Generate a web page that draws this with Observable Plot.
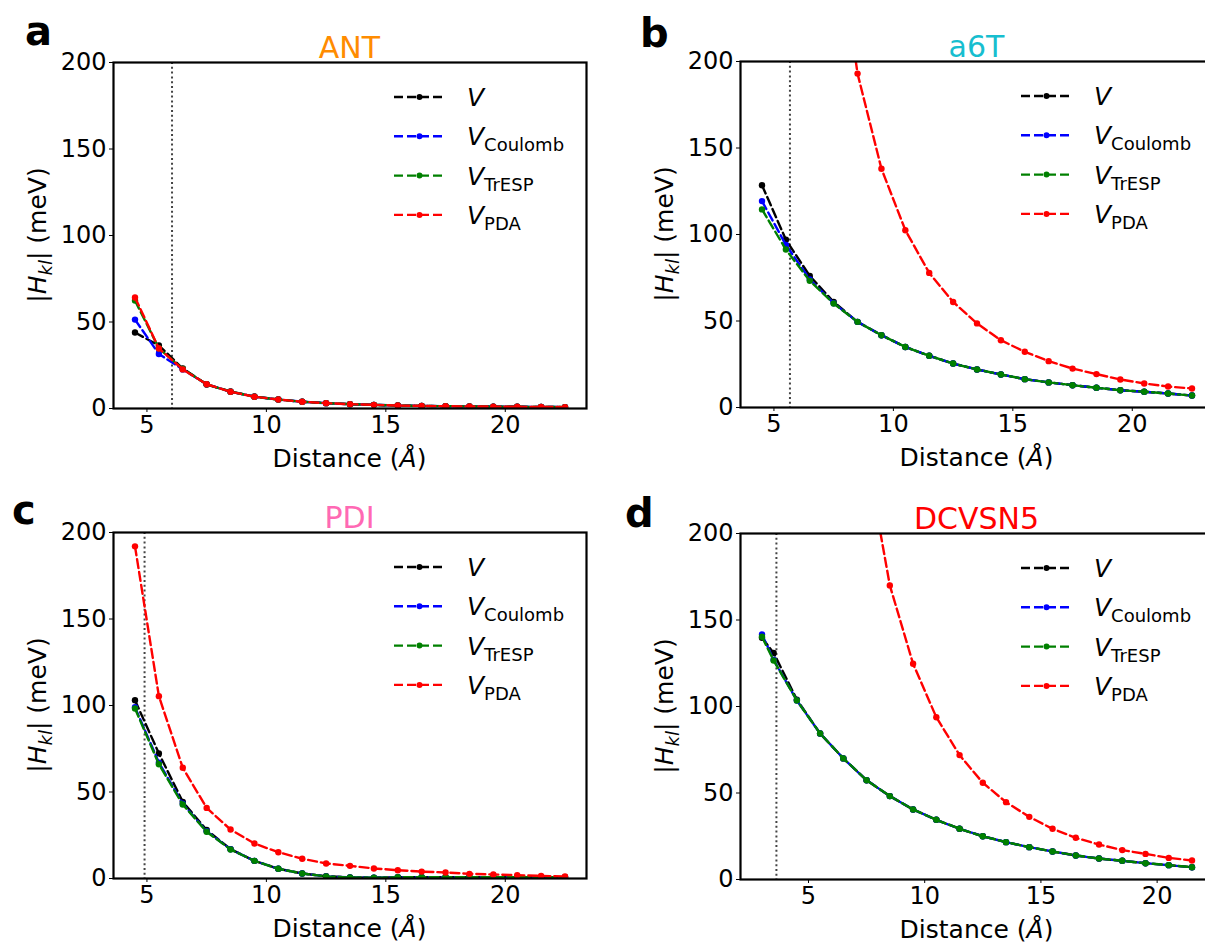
<!DOCTYPE html>
<html><head><meta charset="utf-8">
<script src="https://cdn.jsdelivr.net/npm/d3@7"></script>
<script src="https://cdn.jsdelivr.net/npm/@observablehq/plot@0.6"></script>
<style>
html,body{margin:0;padding:0;background:#fff;overflow:hidden;width:1205px;height:943px;}
#root{position:relative;width:1205px;height:943px;overflow:hidden;font-family:"DejaVu Sans",sans-serif;}
.panel{position:absolute;}
#overlay{position:absolute;left:0;top:0;pointer-events:none;}
</style></head>
<body><div id="root"></div>
<script>
// ---- data ----
const seriesNames = ["V", "Coulomb", "TrESP", "PDA"];
const seriesColors = ["#000000", "#0000ff", "#008000", "#ff0000"];
const panelLetters = ["a", "b", "c", "d"];
const panelTitles = ["ANT", "a6T", "PDI", "DCVSN5"];
const titleColors = ["#ff8c00", "#17becf", "#ff69b4", "#ff0000"];
const xTicks = [5, 10, 15, 20];
const yTicks = [0, 50, 100, 150, 200];
const cutoffs = [6.05, 5.67, 4.9, 3.62];

const dist = [4.5,5.5,6.5,7.5,8.5,9.5,10.5,11.5,12.5,13.5,14.5,15.5,16.5,17.5,18.5,19.5,20.5,21.5,22.5];
const distD = [3.0,3.5,4.5,5.5,6.5,7.5,8.5,9.5,10.5,11.5,12.5,13.5,14.5,15.5,16.5,17.5,18.5,19.5,20.5,21.5];
const distPdaB = [7.5,8.5,9.5,10.5,11.5,12.5,13.5,14.5,15.5,16.5,17.5,18.5,19.5,20.5,21.5,22.5];
const distPdaD = [7.5,8.5,9.5,10.5,11.5,12.5,13.5,14.5,15.5,16.5,17.5,18.5,19.5,20.5,21.5];

// ANT
const antV    = [43.9,36.4,23.1,13.9,9.8,6.9,5.2,3.9,3.1,2.5,2.1,1.7,1.5,1.3,1.2,1.1,1.0,0.9,0.8];
const antCoul = [51.4,31.5,22.6,14.0,9.7,6.8,5.2,3.9,3.1,2.5,2.1,1.7,1.5,1.3,1.2,1.1,1.0,0.9,0.8];
const antTr   = [62.4,34.8,22.8,14.0,9.7,6.8,5.2,3.9,3.1,2.5,2.1,1.7,1.5,1.3,1.2,1.1,1.0,0.9,0.8];
const antPDA  = [64.2,34.7,22.6,14.0,9.7,6.8,5.2,3.9,3.1,2.5,2.1,1.7,1.5,1.3,1.2,1.1,1.0,0.9,0.8];
// a6T
const a6tV    = [128.5,97.0,76.0,61.0,49.5,41.8,35.0,29.9,25.4,22.0,19.1,16.4,14.5,12.9,11.4,10.0,9.1,8.1,6.9];
const a6tCoul = [119.3,94.0,74.0,60.3,49.5,41.8,35.0,29.9,25.4,22.0,19.1,16.4,14.5,12.9,11.4,10.0,9.1,8.1,6.9];
const a6tTr   = [114.5,91.3,73.2,60.1,49.5,41.8,35.0,29.9,25.4,22.0,19.1,16.4,14.5,12.9,11.4,10.0,9.1,8.1,6.9];
const a6tPDA  = [290,193,138,102.5,77.8,61.0,48.6,38.9,32.2,26.8,22.5,19.3,16.2,13.9,12.1,11.0];
// PDI
const pdiV    = [103.0,72.3,44.3,28.0,17.0,10.2,5.6,2.9,1.3,0.6,0.5,0.7,0.8,0.8,0.8,0.8,0.8,0.8,0.8];
const pdiCoul = [99.0,67.0,43.2,27.3,16.9,10.2,5.6,2.9,1.2,0.6,0.5,0.7,0.8,0.8,0.8,0.8,0.8,0.8,0.8];
const pdiTr   = [98.3,66.0,42.8,27.0,16.8,10.2,5.6,2.9,1.2,0.6,0.5,0.7,0.8,0.8,0.8,0.8,0.8,0.8,0.8];
const pdiPDA  = [192.0,105.4,64.0,40.8,28.3,20.2,15.2,11.4,8.7,7.3,5.8,4.8,4.0,3.5,2.7,2.3,1.9,1.5,1.2];
// DCVSN5
const dcvV    = [139.7,131.0,104.0,84.4,70.0,57.4,48.2,40.5,34.5,29.3,25.0,21.6,18.7,16.2,13.9,12.1,10.8,9.4,8.3,7.1];
const dcvCoul = [141.6,127.0,103.5,84.4,70.0,57.4,48.2,40.5,34.5,29.3,25.0,21.6,18.7,16.2,13.9,12.1,10.8,9.4,8.3,7.1];
const dcvTr   = [140.3,126.6,103.5,84.4,70.0,57.4,48.2,40.5,34.5,29.3,25.0,21.6,18.7,16.2,13.9,12.1,10.8,9.4,8.3,7.1];
const dcvPDA  = [245,170,124.7,93.8,71.9,55.9,44.7,36.2,29.3,24.1,20.2,17.0,14.8,12.5,11.0];

// ---- panel setup ----
const panels = [
  {left:0,   top:0,   width:600, height:470, mL:113, mR:14, mT:62, mB:62, xDomain:[3.6,23.4],
   letterX:25, letterY:45, series:[[dist,antV],[dist,antCoul],[dist,antTr],[dist,antPDA]]},
  {left:600, top:0,   width:620, height:470, mL:140, mR:7,  mT:61, mB:63, xDomain:[3.6,23.4],
   letterX:640, letterY:47, series:[[dist,a6tV],[dist,a6tCoul],[dist,a6tTr],[distPdaB,a6tPDA]]},
  {left:0,   top:470, width:600, height:473, mL:113, mR:14, mT:62, mB:65, xDomain:[3.6,23.4],
   letterX:12, letterY:524, series:[[dist,pdiV],[dist,pdiCoul],[dist,pdiTr],[dist,pdiPDA]]},
  {left:600, top:470, width:620, height:473, mL:140, mR:7,  mT:63, mB:64, xDomain:[2.075,22.425],
   letterX:625, letterY:527, series:[[distD,dcvV],[distD,dcvCoul],[distD,dcvTr],[distPdaD,dcvPDA]]}
];

const root = document.getElementById("root");
const dash = "9,4";
const lw = 2.4;

panels.forEach((p, k) => {
  const marks = [Plot.ruleX([cutoffs[k]], {stroke:"#444", strokeWidth:2, strokeDasharray:"2,2.8"})];
  p.series.forEach(([xs, ys], i) => {
    const data = xs.map((x, j) => ({x, y: ys[j]}));
    marks.push(Plot.line(data, {x:"x", y:"y", stroke:seriesColors[i], strokeWidth:lw, strokeDasharray:dash, clip:true}));
    marks.push(Plot.dot(data, {x:"x", y:"y", fill:seriesColors[i], r:3.2, clip:true}));
  });
  marks.push(Plot.frame({stroke:"#000", strokeWidth:2.2}));
  marks.push(Plot.axisX({ticks:xTicks, tickSize:4, tickPadding:3, label:null, tickFormat:d=>String(d)}));
  marks.push(Plot.axisY({ticks:yTicks, tickSize:4, tickPadding:3, label:null, tickFormat:d=>String(d)}));
  const svg = Plot.plot({
    width:p.width, height:p.height,
    marginLeft:p.mL, marginRight:p.mR, marginTop:p.mT, marginBottom:p.mB,
    x:{domain:p.xDomain}, y:{domain:[0,200]},
    style:{fontSize:"24px", fontFamily:"'DejaVu Sans', sans-serif", color:"#000", background:"transparent", overflow:"visible"},
    marks
  });
  svg.classList.add("panel");
  svg.style.left = p.left + "px";
  svg.style.top = p.top + "px";
  root.appendChild(svg);
});

// ---- overlay with rich text (letters, titles, axis labels, legends) ----
const ov = d3.select(root).append("svg").attr("id","overlay").attr("width",1205).attr("height",943)
  .style("font-family","'DejaVu Sans', sans-serif");

panels.forEach((p, k) => {
  const fx0 = p.left + p.mL, fx1 = p.left + p.width - p.mR;
  const fy0 = p.top + p.mT, fy1 = p.top + p.height - p.mB;
  const cx = (fx0 + fx1) / 2, cy = (fy0 + fy1) / 2;
  // letter
  ov.append("text").attr("x", p.letterX).attr("y", p.letterY)
    .attr("font-size", 40).attr("font-weight", "bold").text(panelLetters[k]);
  // title
  ov.append("text").attr("x", cx).attr("y", fy0 - 4).attr("text-anchor","middle")
    .attr("font-size", 30).attr("fill", titleColors[k]).text(panelTitles[k]);
  // x label
  const xl = ov.append("text").attr("x", cx).attr("y", fy1 + 59).attr("text-anchor","middle").attr("font-size", 25);
  xl.append("tspan").text("Distance (");
  xl.append("tspan").attr("font-style","italic").text("Å");
  xl.append("tspan").text(")");
  // y label
  const yl = ov.append("text").attr("transform", `translate(${fx0 - 67},${cy}) rotate(-90)`)
    .attr("text-anchor","middle").attr("font-size", 25);
  yl.append("tspan").text("|");
  yl.append("tspan").attr("font-style","italic").text("H");
  yl.append("tspan").attr("font-style","italic").attr("font-size", 18).attr("dy", 6).text("kl");
  yl.append("tspan").attr("dy", -6).text("| (meV)");
  // legend
  seriesNames.forEach((name, i) => {
    const ly = fy0 + 35 + i * 39.3;
    const g = ov.append("g");
    g.append("line").attr("x1", fx1 - 192).attr("x2", fx1 - 141).attr("y1", ly).attr("y2", ly)
      .attr("stroke", seriesColors[i]).attr("stroke-width", lw).attr("stroke-dasharray", dash);
    g.append("circle").attr("cx", fx1 - 166.5).attr("cy", ly).attr("r", 3).attr("fill", seriesColors[i]);
    const t = g.append("text").attr("x", fx1 - 119).attr("y", ly + 9).attr("font-size", 25);
    t.append("tspan").attr("font-style","italic").text("V");
    if (name !== "V") t.append("tspan").attr("font-size", 18).attr("dy", 6).text(name);
  });
});
</script>
</body></html>
